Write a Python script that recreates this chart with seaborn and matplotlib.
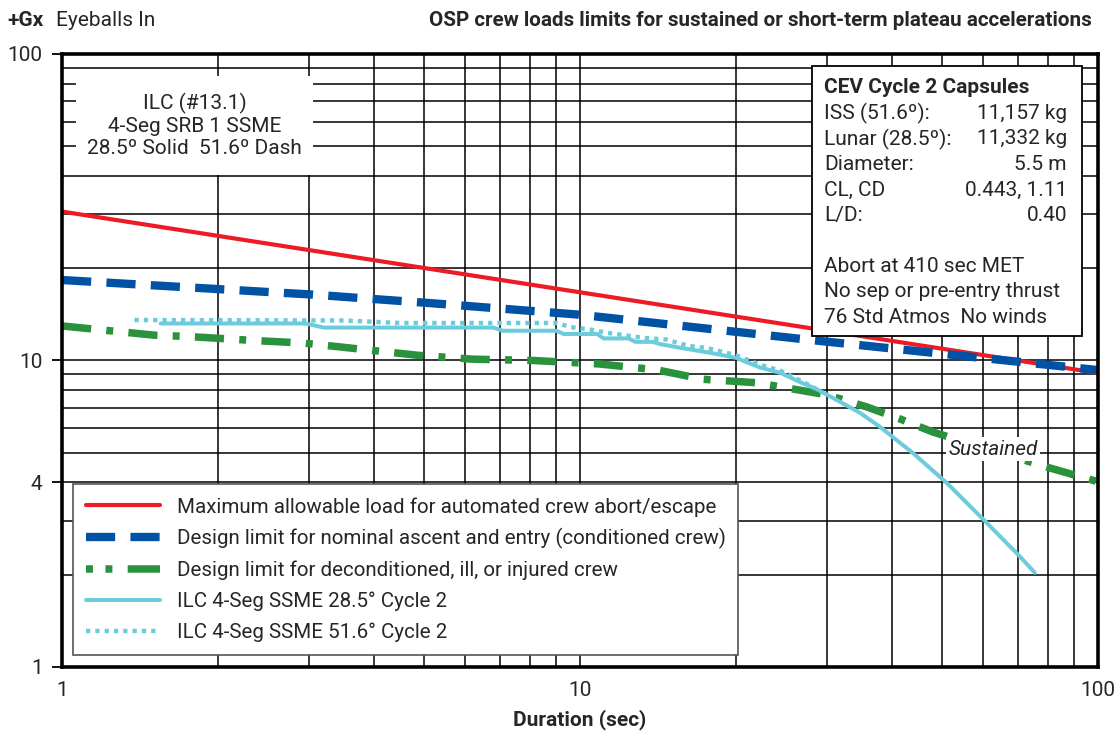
import matplotlib
matplotlib.use("Agg")
import matplotlib.pyplot as plt
import matplotlib.ticker as mticker
import matplotlib.font_manager as fm
from matplotlib.patches import Rectangle
import numpy as np
import seaborn as sns

# data (duration sec, +Gx)
red_x = [1, 100]
red_y = [30.6, 9.1]

blue_x = [1, 3.05, 5.1, 10, 27.4, 100]
blue_y = [18.3, 16.4, 15.4, 14.1, 11.7, 9.3]

green_x = [1, 1.5, 1.77, 2.38, 2.92, 3.39, 4.85, 6.19, 8.1, 10.9, 14.1, 17.3, 21.9, 30, 35.8, 41.5, 48, 80.7, 100]
green_y = [12.96, 12.1, 11.96, 11.6, 11.4, 11.1, 10.4, 10.1, 10.0, 9.74, 9.31, 8.68, 8.46, 7.72, 7.05, 6.44, 5.84, 4.46, 4.02]

ilc285_x = [1.55, 2.95, 3.2, 6.8, 7.1, 9.0, 9.3, 10.8, 11.1, 12.4, 12.8, 13.8, 14.3, 15.6, 17.8, 20.0,
            22.2, 24.4, 26.6, 28.6, 30.8, 34.7, 37.9, 43.9, 51.1, 61.0, 70.7, 75.5]
ilc285_y = [13.2, 13.2, 12.8, 12.8, 12.5, 12.5, 12.2, 12.2, 11.8, 11.8, 11.5, 11.5, 11.3, 11.0, 10.6, 10.2,
            9.5, 9.1, 8.5, 8.07, 7.54, 6.75, 6.08, 4.99, 3.98, 2.95, 2.29, 2.03]

ilc516_x = [1.38, 3.5, 4.5, 9.0, 9.6, 10.5, 11.3, 12.6, 13.2, 14.7, 16.2, 17.5, 20.0, 22.2, 24.4, 26.6, 28.5]
ilc516_y = [13.55, 13.5, 13.25, 13.25, 12.85, 12.6, 12.3, 12.0, 11.85, 11.7, 11.15, 11.0, 10.4, 9.7, 9.25, 8.6, 8.1]

labels = [
    "Maximum allowable load for automated crew abort/escape",
    "Design limit for nominal ascent and entry (conditioned crew)",
    "Design limit for deconditioned, ill, or injured crew",
    "ILC 4-Seg SSME 28.5\u00b0 Cycle 2",
    "ILC 4-Seg SSME 51.6\u00b0 Cycle 2",
]

x_ticks = [1, 10, 100]
y_ticks = [1, 4, 10, 100]

cev_rows = [
    ("ISS (51.6\u00ba):", "11,157 kg"),
    ("Lunar (28.5\u00ba):", "11,332 kg"),
    ("Diameter:", "5.5 m"),
    ("CL, CD", "0.443, 1.11"),
    ("L/D:", "0.40"),
    ("", ""),
    ("Abort at 410 sec MET", ""),
    ("No sep or pre-entry thrust", ""),
    ("76 Std Atmos  No winds", ""),
]

sns.set_theme(style="white")

# font: plain Roboto has about the right width/height ratio here
faces = {}
for f in fm.fontManager.ttflist:
    faces.setdefault(f.name, set()).add((f.weight, f.style, f.stretch))
family, FS = "Liberation Sans", 14
for name, size in [("Roboto", 15), ("Roboto Condensed", 16.5)]:
    got = faces.get(name, set())
    if any(w == 400 and s == "normal" for w, s, _ in got) and any(w == 700 for w, _, _ in got):
        family, FS = name, size
        break
plt.rcParams["font.family"] = [family, "DejaVu Sans"]
plt.rcParams["font.stretch"] = "normal"
plt.rcParams["lines.scale_dashes"] = False
LFS = FS - 0.2

fig = plt.figure(figsize=(11.16, 7.36), dpi=100)
ax = fig.add_axes([0.0556, 0.0938, 0.9283, 0.8329])
ax.set_xscale("log")
ax.set_yscale("log")

red = "#ED1C24"
blue = "#0052A5"
green = "#2A913C"
cyan = "#6DCCDC"

sns.lineplot(x=red_x, y=red_y, ax=ax, color=red, lw=3.0, label=labels[0],
             estimator=None, sort=False)
sns.lineplot(x=blue_x, y=blue_y, ax=ax, color=blue, lw=6, label=labels[1],
             linestyle=(0, (21, 11)), estimator=None, sort=False)
sns.lineplot(x=green_x, y=green_y, ax=ax, color=green, lw=5.4, label=labels[2],
             linestyle=(0, (21, 11, 5, 11)), estimator=None, sort=False)
sns.lineplot(x=ilc285_x, y=ilc285_y, ax=ax, color=cyan, lw=2.9, label=labels[3],
             estimator=None, sort=False)
sns.lineplot(x=ilc516_x, y=ilc516_y, ax=ax, color=cyan, lw=3.2, label=labels[4],
             linestyle=(0, (3.1, 3.6)), estimator=None, sort=False)

ax.set_xlim(1, 100)
ax.set_ylim(1, 100)
ax.xaxis.set_major_locator(mticker.FixedLocator(x_ticks))
ax.yaxis.set_major_locator(mticker.FixedLocator(y_ticks))
ax.xaxis.set_major_formatter(mticker.FixedFormatter([str(v) for v in x_ticks]))
ax.yaxis.set_major_formatter(mticker.FixedFormatter([str(v) for v in y_ticks]))
ax.xaxis.set_minor_locator(mticker.LogLocator(base=10, subs=np.arange(2, 10)))
ax.yaxis.set_minor_locator(mticker.LogLocator(base=10, subs=np.arange(2, 10)))
ax.xaxis.set_minor_formatter(mticker.NullFormatter())
ax.yaxis.set_minor_formatter(mticker.NullFormatter())

ax.grid(True, which="both", color="black", lw=1.1)
ax.tick_params(which="minor", length=0)
ax.tick_params(axis="y", which="major", direction="out", length=7, width=1.3,
               color="black", labelsize=FS, pad=7, left=True)
ax.tick_params(axis="x", which="major", length=0, labelsize=FS, pad=10)
for s in ax.spines.values():
    s.set_color("black")
    s.set_linewidth(2.6)

ax.set_xlabel("Duration (sec)", fontsize=FS, fontweight="bold", labelpad=7)
ax.set_ylabel("")

leg = ax.legend(loc="lower left", bbox_to_anchor=(0.0106, 0.0196), borderaxespad=0,
                fontsize=LFS, frameon=True, fancybox=False, framealpha=1,
                edgecolor="#555555", handlelength=3.6, handletextpad=0.82,
                labelspacing=0.56, borderpad=0.62)
leg.get_frame().set_linewidth(1.2)
leg.set_zorder(6)
# legend sample of the green line shows dot, dot, dash
leg.get_lines()[2].set_linestyle((0, (5, 9, 5, 11, 30, 11)))

# ILC note box (white, no border)
ax.add_patch(Rectangle((0.0135, 0.8026), 0.229, 0.1615, transform=ax.transAxes,
                       facecolor="white", edgecolor="none", zorder=4))
ax.text(0.128, 0.884, "ILC (#13.1)\n4-Seg SRB 1 SSME\n28.5\u00ba Solid  51.6\u00ba Dash",
        transform=ax.transAxes, ha="center", va="center", fontsize=FS,
        linespacing=1.2, zorder=5)

# CEV box
ax.add_patch(Rectangle((0.7239, 0.540), 0.2606, 0.4405, transform=ax.transAxes,
                       facecolor="white", edgecolor="black", lw=1.3, zorder=4))
ty = 0.9445
step = 25.5 / 613
ax.text(0.7355, ty, "CEV Cycle 2 Capsules", transform=ax.transAxes, ha="left",
        va="center", fontsize=FS, fontweight="bold", zorder=5)
for i, (lt, rt) in enumerate(cev_rows):
    yy = ty - step * (i + 1)
    if lt:
        ax.text(0.7355, yy, lt, transform=ax.transAxes, ha="left", va="center",
                fontsize=FS, zorder=5)
    if rt:
        ax.text(0.970, yy, rt, transform=ax.transAxes, ha="right", va="center",
                fontsize=FS, zorder=5)

ax.text(62.7, 5.14, "Sustained", ha="center", va="center", fontsize=FS, style="italic",
        bbox=dict(facecolor="white", edgecolor="none", pad=2), zorder=5)

fig.text(0.007, 0.9728, "+Gx", ha="left", va="center", fontsize=FS, fontweight="bold")
fig.text(0.050, 0.9728, "Eyeballs In", ha="left", va="center", fontsize=FS)
fig.text(0.9785, 0.9728, "OSP crew loads limits for sustained or short-term plateau accelerations",
         ha="right", va="center", fontsize=FS - 0.15, fontweight="bold")

fig.savefig("out.png", dpi=100)
